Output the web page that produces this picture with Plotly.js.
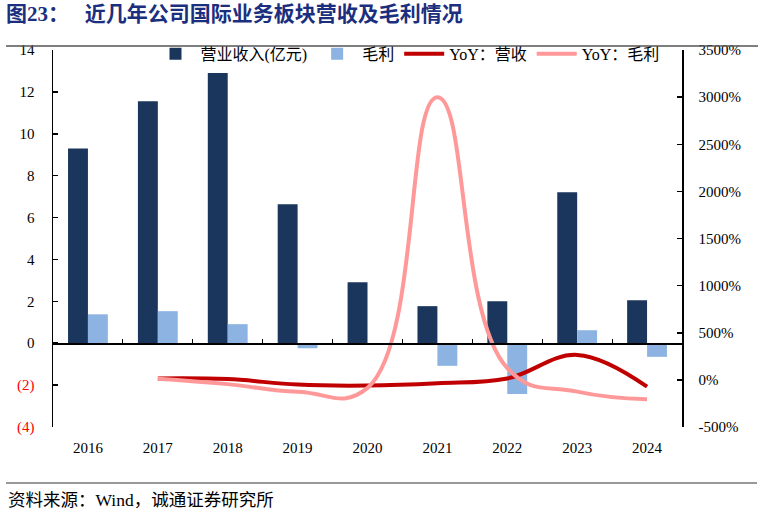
<!DOCTYPE html>
<html>
<head>
<meta charset="utf-8">
<script src="https://cdn.plot.ly/plotly-3.0.1.min.js"></script>
<style>html,body{margin:0;padding:0;background:#fff;}#chart{width:760px;height:514px;}</style>
</head>
<body>
<div id="chart"></div>
<script>
// ---- data ----
const years = ['2016','2017','2018','2019','2020','2021','2022','2023','2024'];
const revenue = [9.3, 11.55, 12.9, 6.64, 2.91, 1.77, 2.0, 7.21, 2.05];      // 营业收入(亿元)
const grossProfit = [1.38, 1.53, 0.91, -0.24, -0.035, -1.08, -2.43, 0.62, -0.65]; // 毛利
const yoyRevenue = [null, 15, 8, -50, -60, -35, 15, 265, -72];             // YoY：营收 (%)
const yoyGross = [null, 12, -45, -125, -85, 3000, 125, -125, -205];         // YoY：毛利 (%)
const leftTickVals = [-4, -2, 0, 2, 4, 6, 8, 10, 12, 14];
const leftTickText = ['(4)', '(2)', '0', '2', '4', '6', '8', '10', '12', '14'];
const rightTickVals = [-500, 0, 500, 1000, 1500, 2000, 2500, 3000, 3500];
const rightTickText = ['-500%', '0%', '500%', '1000%', '1500%', '2000%', '2500%', '3000%', '3500%'];

const serif = 'Liberation Serif, Times New Roman, Noto Sans CJK SC, serif';
const leftTickTextStyled = leftTickText.map(t => t.startsWith('(') ? '<span style="color:#ff0000">' + t + '</span>' : t);

const traces = [
  {type: 'bar', name: '营业收入(亿元)', x: years, y: revenue, xaxis: 'x', yaxis: 'y',
   marker: {color: '#1b365d'}},
  {type: 'bar', name: '毛利', x: years, y: grossProfit, xaxis: 'x', yaxis: 'y',
   marker: {color: '#8db3e2'}},
  {type: 'scatter', mode: 'lines', name: 'YoY：营收', x: years, y: yoyRevenue, xaxis: 'x2', yaxis: 'y2',
   line: {color: '#c00000', width: 4, shape: 'spline', smoothing: 1.1}},
  {type: 'scatter', mode: 'lines', name: 'YoY：毛利', x: years, y: yoyGross, xaxis: 'x2', yaxis: 'y2',
   line: {color: '#ff9999', width: 4, shape: 'spline', smoothing: 1.3}}
];

const layout = {
  width: 760, height: 514,
  margin: {l: 53, r: 78, t: 50, b: 87},
  paper_bgcolor: '#fff', plot_bgcolor: 'rgba(0,0,0,0)',
  font: {family: serif, size: 15, color: '#000'},
  barmode: 'group', bargap: 0.43, bargroupgap: 0,
  showlegend: true,
  legend: {orientation: 'h', x: 0.155, xanchor: 'left', y: 1.035, yanchor: 'top',
           font: {family: serif, size: 16, color: '#000'}, bgcolor: 'rgba(0,0,0,0)',
           itemwidth: 40, tracegroupgap: 0},
  xaxis: {type: 'category', categoryorder: 'array', categoryarray: years, range: [-0.5, 8.5],
          anchor: 'free', position: 4/18, showline: true, linecolor: '#000', linewidth: 1.5,
          ticks: 'inside', tickson: 'boundaries', ticklen: 4, tickcolor: '#000', tickwidth: 1,
          showticklabels: false, showgrid: false, zeroline: false, fixedrange: true},
  xaxis2: {type: 'category', categoryorder: 'array', categoryarray: years, range: [-0.5, 8.5],
           overlaying: 'x', anchor: 'y2', side: 'bottom', showline: false, ticks: '',
           showticklabels: true, ticklabelstandoff: 10, showgrid: false, zeroline: false,
           tickfont: {family: serif, size: 15, color: '#000'}},
  yaxis: {range: [-4, 14], tickvals: leftTickVals, ticktext: leftTickTextStyled,
          showline: true, linecolor: '#000', linewidth: 1.5, ticks: 'inside', ticklen: 5,
          tickcolor: '#000', tickwidth: 1.5, showgrid: false, zeroline: false,
          ticklabelstandoff: 14, tickfont: {family: serif, size: 15, color: '#000'}},
  yaxis2: {range: [-500, 3500], tickvals: rightTickVals, ticktext: rightTickText, overlaying: 'y',
           side: 'right', anchor: 'x', showline: true, linecolor: '#000', linewidth: 1.5,
           ticks: 'inside', ticklen: 5, tickcolor: '#000', tickwidth: 1.5, showgrid: false,
           zeroline: false, ticklabelstandoff: 12, tickfont: {family: serif, size: 15, color: '#000'}},
  title: {text: '<b>图23：\u00a0\u00a0\u00a0近几年公司国际业务板块营收及毛利情况</b>',
          x: 6/760, xref: 'container', xanchor: 'left', y: 1 - 14/514, yref: 'container', yanchor: 'middle',
          font: {family: 'Liberation Serif, Noto Sans CJK SC, serif', size: 21, color: '#1c2f7e'}},
  annotations: [
    {text: '资料来源：Wind，诚通证券研究所', xref: 'paper', yref: 'paper',
     x: -47/629, xanchor: 'left', y: -73/377, yanchor: 'middle', showarrow: false,
     font: {family: 'Liberation Serif, Noto Sans CJK SC, serif', size: 17.5, color: '#000'}}
  ],
  shapes: [
    {type: 'line', xref: 'paper', yref: 'paper', x0: -47/629, x1: 705/629, y0: 381/377, y1: 381/377,
     line: {color: '#555', width: 1.5}},
    {type: 'line', xref: 'paper', yref: 'paper', x0: -47/629, x1: 704/629, y0: -56/377, y1: -56/377,
     line: {color: '#777', width: 1.5}}
  ]
};

Plotly.newPlot('chart', traces, layout, {displayModeBar: false, staticPlot: true});
</script>
</body>
</html>
